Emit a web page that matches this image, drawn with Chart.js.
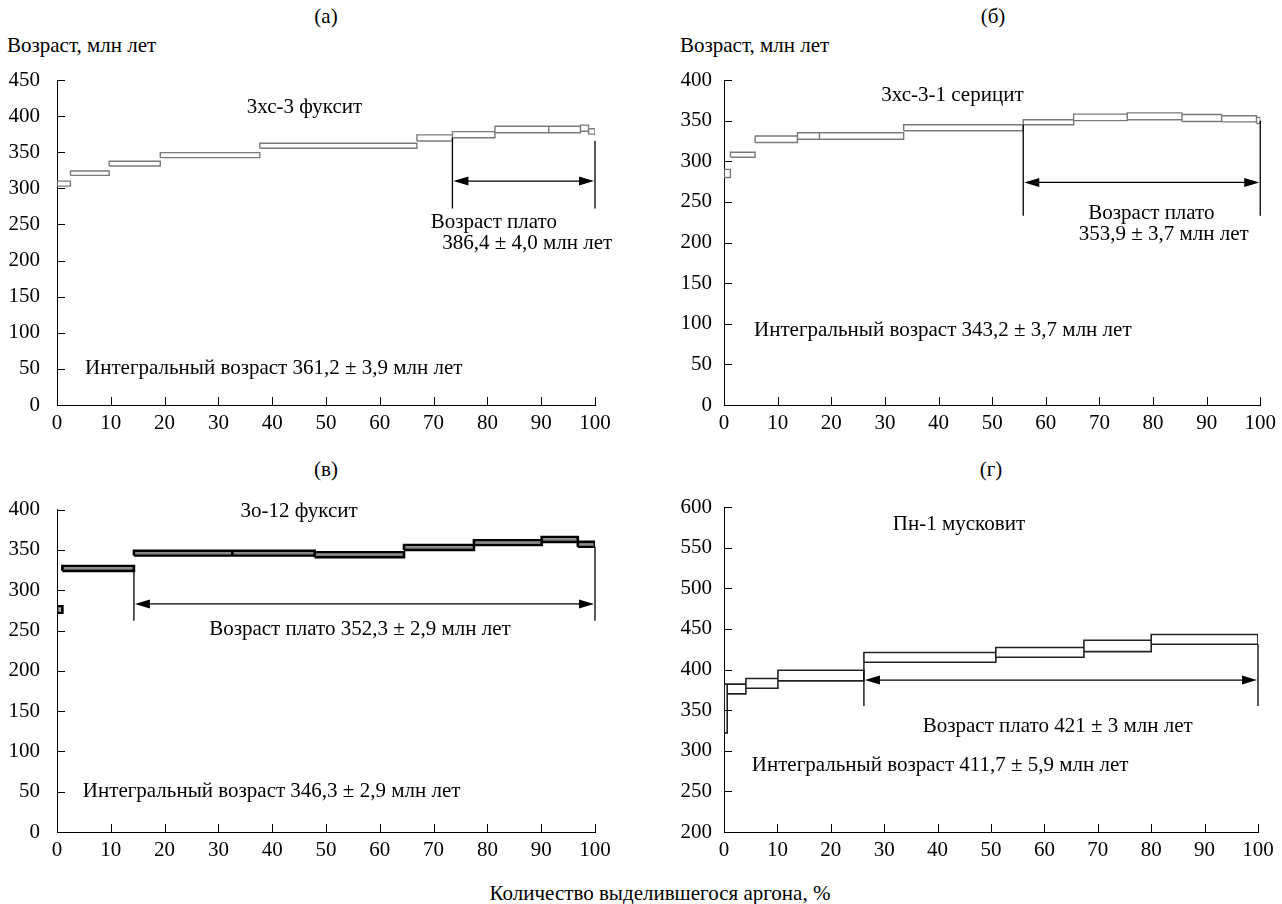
<!DOCTYPE html>
<html><head><meta charset="utf-8">
<script src="https://cdn.jsdelivr.net/npm/chart.js@4.4.1/dist/chart.umd.min.js"></script>
<style>
html,body{margin:0;padding:0;background:#fff}
body{width:1282px;height:904px;position:relative;overflow:hidden;font-family:"Liberation Serif","Times New Roman",serif;color:#000}
.cv{position:absolute}
.t{position:absolute;font-size:21px;line-height:1;white-space:nowrap;transform:translateY(-50%)}
.c{transform:translate(-50%,-50%)}
</style></head>
<body>
<div class="t c" style="left:326px;top:16px">(а)</div>
<div class="t c" style="left:993px;top:16px">(б)</div>
<div class="t c" style="left:326px;top:469px">(в)</div>
<div class="t c" style="left:991px;top:469px">(г)</div>
<div class="t" style="left:7px;top:45px">Возраст, млн лет</div>
<div class="t" style="left:680px;top:45px">Возраст, млн лет</div>
<div class="t c" style="left:660px;top:893px">Количество выделившегося аргона, %</div>
<div class="cv" style="left:0;top:50px;width:640px;height:400px"><canvas id="ca"></canvas></div>
<div class="cv" style="left:660px;top:50px;width:622px;height:400px"><canvas id="cb"></canvas></div>
<div class="cv" style="left:0;top:480px;width:640px;height:400px"><canvas id="cc"></canvas></div>
<div class="cv" style="left:660px;top:480px;width:622px;height:400px"><canvas id="cd"></canvas></div>
<script>
// ---- tick labels ----
const xTicks = [0,10,20,30,40,50,60,70,80,90,100];
const yTicksA = [0,50,100,150,200,250,300,350,400,450];
const yTicksB = [0,50,100,150,200,250,300,350,400];
const yTicksC = [0,50,100,150,200,250,300,350,400];
const yTicksD = [200,250,300,350,400,450,500,550,600];

// ---- (а) 3хс-3 фуксит : step boundaries (% Ar) and age upper/lower (Ma) ----
const aBounds = [0,2.5,9.7,19.2,37.7,66.9,73.5,81.4,91.4,97.3,98.8,100];
const aHigh   = [310,324,337.5,349.5,362.5,374,378.5,386,386,387.5,382.5];
const aLow    = [303,318,331,342.5,355.5,365.5,370,377,377,379,375];
const aPlateau = [73.5,100];

// ---- (б) 3хс-3-1 серицит ----
const bBounds = [0,1.2,5.8,13.7,17.8,33.5,55.8,65.2,75.2,85.4,92.8,99.3,100];
const bHigh   = [290,311,331,335,335,345,351,358,359.5,357.5,356,354];
const bLow    = [280,305,323,327,327,337.5,345,350,351,349,348.5,346.5];
const bPlateau = [55.8,100];

// ---- (в) 3о-12 фуксит ----
const cBounds = [0,1,14.3,32.6,47.9,64.5,77.5,90.1,96.8,100];
const cHigh   = [280,330,349,349,347,356,362,366,360];
const cLow    = [272,324,343,343,341,350,356,360,354];
const cPlateau = [14.3,100];

// ---- (г) Пн-1 мусковит ----
const dBounds = [0,0.6,4.1,10.1,26.2,50.9,67.4,80,100];
const dHigh   = [382,382,389,399,421,427,436,443];
const dLow    = [322,370,377,386,409,415,422,431];
const dPlateau = [26.2,100];

const FONT = '"Liberation Serif","Times New Roman",serif';
const FS = 21;

function boxPoints(bounds, hi, lo){
  const pts = [];
  for(let i=0;i<hi.length;i++){
    pts.push({x:bounds[i],y:lo[i]},{x:bounds[i],y:hi[i]},{x:bounds[i+1],y:hi[i]},
             {x:bounds[i+1],y:lo[i]},{x:bounds[i],y:lo[i]},{x:bounds[i+1],y:null});
  }
  return pts;
}
function midPoints(bounds, hi, lo){
  const pts = [];
  for(let i=0;i<hi.length;i++){
    const m=(hi[i]+lo[i])/2;
    pts.push({x:bounds[i],y:m},{x:bounds[i+1],y:m},{x:bounds[i+1],y:null});
  }
  return pts;
}

const annot = {
  id:'annot',
  afterDatasetsDraw(chart, args, o){
    const {ctx, scales:{x,y}} = chart;
    ctx.save();
    ctx.strokeStyle='#000'; ctx.lineWidth=1;
    const ca = chart.chartArea;
    x.ticks.forEach(t=>{const px=Math.round(x.getPixelForValue(t.value))+0.5; ctx.beginPath(); ctx.moveTo(px,ca.bottom); ctx.lineTo(px,ca.bottom-8); ctx.stroke();});
    y.ticks.forEach(t=>{const py=Math.round(y.getPixelForValue(t.value))+0.5; ctx.beginPath(); ctx.moveTo(ca.left,py); ctx.lineTo(ca.left+8,py); ctx.stroke();});
    const p=o.plateau;
    const x1=x.getPixelForValue(p.x[0]), x2=x.getPixelForValue(p.x[1]);
    const yb=y.getPixelForValue(p.bottom), ya=y.getPixelForValue(p.arrow);
    ctx.lineWidth=1.3;
    ctx.beginPath();
    ctx.moveTo(x1,y.getPixelForValue(p.top[0])); ctx.lineTo(x1,yb);
    ctx.moveTo(x2,y.getPixelForValue(p.top[1])); ctx.lineTo(x2,yb);
    ctx.moveTo(x1+4,ya); ctx.lineTo(x2-4,ya);
    ctx.stroke();
    ctx.fillStyle='#000';
    const AL=16, AW=4.5;
    ctx.beginPath(); ctx.moveTo(x1+1,ya); ctx.lineTo(x1+AL,ya-AW); ctx.lineTo(x1+AL,ya+AW); ctx.closePath(); ctx.fill();
    ctx.beginPath(); ctx.moveTo(x2-1,ya); ctx.lineTo(x2-AL,ya-AW); ctx.lineTo(x2-AL,ya+AW); ctx.closePath(); ctx.fill();
    ctx.font = FS+'px '+FONT;
    ctx.textBaseline='middle';
    o.texts.forEach(t=>{ctx.textAlign=t.align||'center'; ctx.fillText(t.s, x.getPixelForValue(t.x), y.getPixelForValue(t.y));});
    ctx.restore();
  }
};

function makeChart(id, cfg){
  const datasets = [{
    data: boxPoints(cfg.bounds, cfg.hi, cfg.lo),
    borderColor: cfg.color, borderWidth: cfg.width,
    showLine:true, pointRadius:0, spanGaps:false, tension:0, fill:false
  }];
  if(cfg.mid){
    datasets.push({data: midPoints(cfg.bounds, cfg.hi, cfg.lo), borderColor:'#8a8a8a', borderWidth:2,
      showLine:true, pointRadius:0, spanGaps:false, tension:0, fill:false});
  }
  return new Chart(document.getElementById(id), {
    type:'scatter',
    data:{datasets},
    plugins:[annot],
    options:{
      responsive:true, maintainAspectRatio:false, animation:false,
      layout:{padding:cfg.pad},
      plugins:{legend:{display:false}, tooltip:{enabled:false}, annot:cfg.annot},
      scales:{
        x:{type:'linear', min:0, max:100,
           afterBuildTicks:s=>{s.ticks = xTicks.map(v=>({value:v}));},
           afterFit:s=>{s.height = cfg.xh;},
           grid:{display:false, drawTicks:false, tickLength:0},
           border:{display:true, color:'#000', width:1},
           ticks:{color:'#000', font:{family:FONT, size:FS}, padding:6, maxRotation:0, autoSkip:false}},
        y:{type:'linear', min:cfg.yTicks[0], max:cfg.yTicks[cfg.yTicks.length-1],
           afterBuildTicks:s=>{s.ticks = cfg.yTicks.map(v=>({value:v}));},
           afterFit:s=>{s.width = cfg.yw;},
           grid:{display:false, drawTicks:false, tickLength:0},
           border:{display:true, color:'#000', width:1},
           ticks:{color:'#000', font:{family:FONT, size:FS}, padding:cfg.yp, autoSkip:false}}
      }
    }
  });
}

makeChart('ca', {bounds:aBounds, hi:aHigh, lo:aLow, color:'#7a7a7a', width:1.4, yTicks:yTicksA,
  yw:57, xh:45, yp:17, pad:{left:0,right:45,top:30,bottom:0},
  annot:{plateau:{x:aPlateau, top:[370,366], bottom:272, arrow:310},
    texts:[{s:'3хс-3 фуксит', x:46, y:412},
           {s:'Возраст плато', x:81.2, y:253},
           {s:'386,4 ± 4,0 млн лет', x:87.4, y:224},
           {s:'Интегральный возраст 361,2 ± 3,9 млн лет', x:5.2, y:51, align:'left'}]}});

makeChart('cb', {bounds:bBounds, hi:bHigh, lo:bLow, color:'#7a7a7a', width:1.4, yTicks:yTicksB,
  yw:64, xh:45, yp:12, pad:{left:0,right:20,top:30,bottom:0},
  annot:{plateau:{x:bPlateau, top:[345,350], bottom:233, arrow:274},
    texts:[{s:'3хс-3-1 серицит', x:42.6, y:381},
           {s:'Возраст плато', x:79.7, y:236},
           {s:'353,9 ± 3,7 млн лет', x:82, y:210},
           {s:'Интегральный возраст 343,2 ± 3,7 млн лет', x:5.6, y:92, align:'left'}]}});

makeChart('cc', {bounds:cBounds, hi:cHigh, lo:cLow, color:'#000', width:2.6, mid:true, yTicks:yTicksC,
  yw:57, xh:48, yp:17, pad:{left:0,right:45,top:27,bottom:0},
  annot:{plateau:{x:cPlateau, top:[324,354], bottom:262, arrow:283},
    texts:[{s:'3о-12 фуксит', x:45, y:398},
           {s:'Возраст плато 352,3 ± 2,9 млн лет', x:56.3, y:251},
           {s:'Интегральный возраст 346,3 ± 2,9 млн лет', x:4.8, y:50, align:'left'}]}});

makeChart('cd', {bounds:dBounds, hi:dHigh, lo:dLow, color:'#222', width:1.6, yTicks:yTicksD,
  yw:64, xh:48, yp:12, pad:{left:0,right:24,top:27,bottom:0},
  annot:{plateau:{x:dPlateau, top:[409,431], bottom:355, arrow:387},
    texts:[{s:'Пн-1 мусковит', x:44, y:578},
           {s:'Возраст плато 421 ± 3 млн лет', x:62.5, y:330},
           {s:'Интегральный возраст 411,7 ± 5,9 млн лет', x:5.2, y:282, align:'left'}]}});
</script>
</body></html>
